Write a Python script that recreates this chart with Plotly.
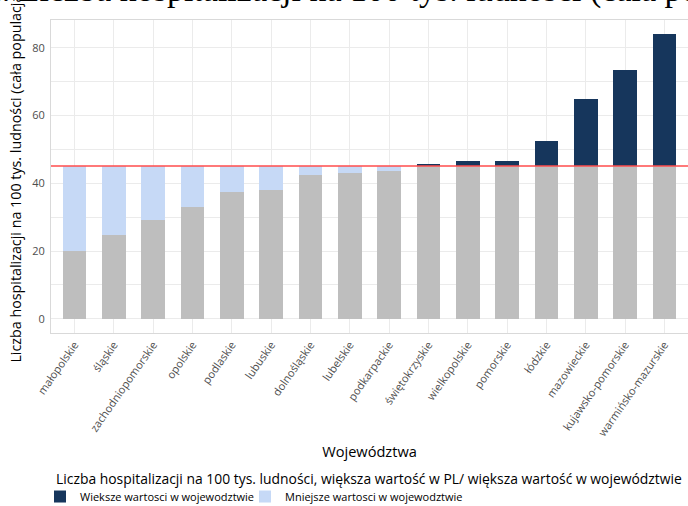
import plotly.graph_objects as go

categories = ["małopolskie", "śląskie", "zachodniopomorskie", "opolskie", "podlaskie",
              "lubuskie", "dolnośląskie", "lubelskie", "podkarpackie", "świętokrzyskie",
              "wielkopolskie", "pomorskie", "łódzkie", "mazowieckie", "kujawsko-pomorskie",
              "warmińsko-mazurskie"]
values = [20.1, 24.6, 29.3, 33.1, 37.5, 38.1, 42.3, 42.9, 43.5, 45.7,
          46.6, 46.6, 52.5, 64.9, 73.4, 84.0]
pl_value = 45.1

title_text = "Wykres 1.2. Liczba hospitalizacji na 100 tys. ludności (cała populacja)"
y_title = "Liczba hospitalizacji na 100 tys. ludności (cała populacja)"
x_title = "Województwa"
legend_title = "Liczba hospitalizacji na 100 tys. ludności, większa wartość w PL/ większa wartość w województwie"
name_above = "Wieksze wartosci w wojewodztwie"
name_below = "Mniejsze wartosci w wojewodztwie"

base = [min(v, pl_value) for v in values]
above = [max(v - pl_value, 0) for v in values]
below = [max(pl_value - v, 0) for v in values]

fig = go.Figure()
fig.add_bar(x=categories, y=base, marker_color="#BEBEBE", width=0.6, showlegend=False,
            marker_line_width=0)
fig.add_bar(x=categories, y=above, marker_color="#16365C", width=0.6, name=name_above,
            marker_line_width=0, legend="legend")
fig.add_bar(x=categories, y=below, marker_color="#C6D9F6", width=0.6, name=name_below,
            marker_line_width=0, legend="legend2")
fig.add_hline(y=pl_value, line_color="#FF4D4D", line_width=1.5)

# chart title (overflowing the top edge, as in the reference)
fig.add_annotation(text=title_text, xref="paper", x=(344 - 51) / 637, xanchor="center",
                   xshift=-17,
                   yref="paper", y=1, yanchor="middle", yshift=30, showarrow=False,
                   font=dict(family="Liberation Serif", size=34, color="#000000"))
# legend title
fig.add_annotation(text=legend_title, xref="paper", x=(54 - 51) / 637, xanchor="left",
                   yref="paper", y=0, yanchor="middle", yshift=-145, showarrow=False,
                   font=dict(size=13.9, color="#000000"))

legend_common = dict(orientation="h", xref="container", yref="container", y=0.0474,
                     xanchor="left", yanchor="top", font=dict(size=11), itemwidth=30,
                     bgcolor="rgba(0,0,0,0)")

fig.update_layout(
    width=688, height=506,
    margin=dict(l=51, r=0, t=20, b=173),
    barmode="stack",
    plot_bgcolor="white", paper_bgcolor="white",
    font=dict(family="Open Sans", color="#000000"),
    xaxis=dict(range=[-0.6, 15.6], tickangle=-55, showgrid=True, gridcolor="#EBEBEB",
               showline=True, mirror=True, linecolor="#D9D9D9", linewidth=1,
               ticks="", tickfont=dict(size=11, color="#4D4D4D"), automargin=False,
               title=dict(text=x_title, font=dict(size=14.6), standoff=8), zeroline=False),
    yaxis=dict(range=[-4.2, 88.2], tickvals=[0, 20, 40, 60, 80], showgrid=True,
               gridcolor="#EBEBEB", minor=dict(dtick=10, showgrid=True, gridcolor="#EBEBEB"),
               showline=True, mirror=True, linecolor="#D9D9D9", linewidth=1, ticks="",
               tickfont=dict(size=11, color="#4D4D4D"), zeroline=False, automargin=False,
               ticklabelstandoff=3,
               title=dict(text=y_title, font=dict(size=14.3), standoff=7)),
    legend=dict(x=40 / 688, **legend_common),
    legend2=dict(x=245 / 688, **legend_common),
    showlegend=True,
)

fig.write_html("out.html", post_script="document.body.style.margin='0';",
               config={"displayModeBar": False})
